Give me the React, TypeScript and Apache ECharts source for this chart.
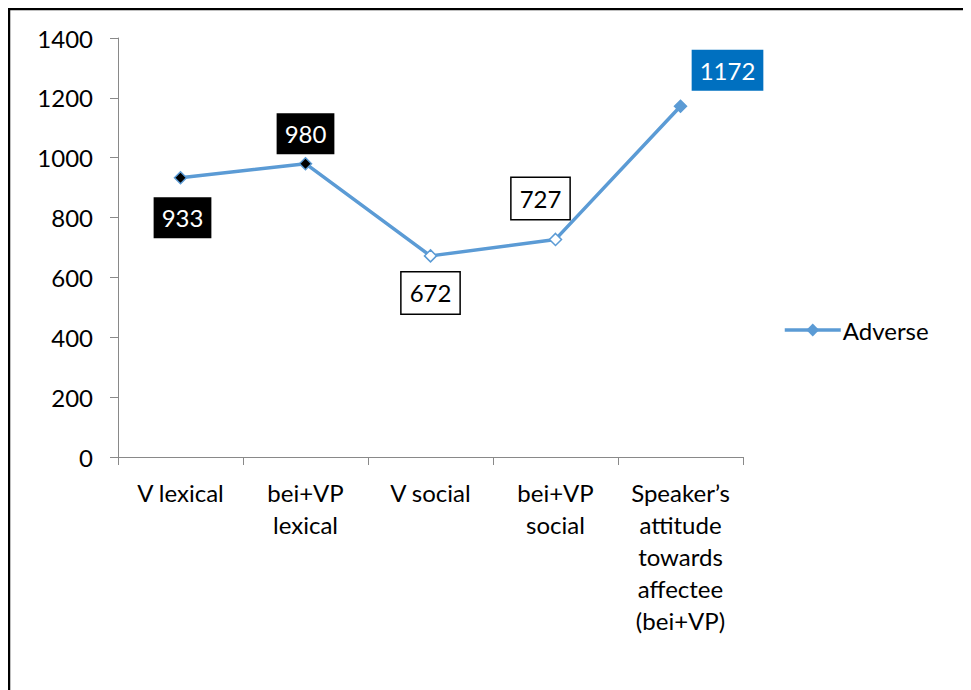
import React, { useEffect, useRef } from "react";
import * as echarts from "echarts";

// Category labels (multi-line where the text wraps)
const categories: string[] = [
  "V lexical",
  "bei+VP\nlexical",
  "V social",
  "bei+VP\nsocial",
  "Speaker\u2019s\nattitude\ntowards\naffectee\n(bei+VP)",
];

// Adverse counts per category
const adverseValues: number[] = [933, 980, 672, 727, 1172];

const seriesName = "Adverse";

const yTicks = { min: 0, max: 1400, interval: 200 };

const FONT = "Lato, 'Open Sans', sans-serif";
const FONT_SIZE = 24;
const LINE_BLUE = "#5B9BD5";
const AXIS_GRAY = "#898989";

// Per-point marker fill and label box styling
const pointLooks = [
  { fill: "#000000", boxBg: "#000000", boxBorder: "#000000", text: "#ffffff", offset: [2, 40] },
  { fill: "#000000", boxBg: "#000000", boxBorder: "#000000", text: "#ffffff", offset: [0, -30] },
  { fill: "#ffffff", boxBg: "#ffffff", boxBorder: "#000000", text: "#000000", offset: [0, 37] },
  { fill: "#ffffff", boxBg: "#ffffff", boxBorder: "#000000", text: "#000000", offset: [-15, -41] },
  { fill: LINE_BLUE, boxBg: "#0070C0", boxBorder: "#0070C0", text: "#ffffff", offset: [47, -36] },
];

export default function App() {
  const ref = useRef<HTMLDivElement>(null);

  useEffect(() => {
    if (!ref.current) return;
    const chart = echarts.init(ref.current, undefined, { renderer: "svg" });

    const data = adverseValues.map((v, i) => {
      const look = pointLooks[i];
      return {
        value: v,
        itemStyle: { color: look.fill, borderColor: LINE_BLUE, borderWidth: 1.5 },
        label: {
          show: true,
          position: "inside",
          offset: look.offset,
          formatter: "{c}",
          color: look.text,
          backgroundColor: look.boxBg,
          borderColor: look.boxBorder,
          borderWidth: look.boxBg === "#ffffff" ? 1.5 : 0,
          padding: [7, 8, 7, 8],
          fontFamily: FONT,
          fontSize: FONT_SIZE,
          lineHeight: 27,
        },
      };
    });

    chart.setOption({
      animation: false,
      backgroundColor: "#ffffff",
      textStyle: { fontFamily: FONT },
      graphic: [
        {
          type: "polyline",
          shape: { points: [[1, 700], [1, 1], [959.5, 1], [959.5, 700]] },
          style: { stroke: "#000000", lineWidth: 2.5, fill: "none" },
          silent: true,
        },
      ],
      grid: { left: 110, top: 30, width: 625, height: 419 },
      legend: {
        orient: "vertical",
        left: 770,
        top: 305,
        itemWidth: 56,
        itemHeight: 16,
        itemGap: 10,
        lineStyle: { width: 3.5, color: LINE_BLUE },
        itemStyle: { color: LINE_BLUE, borderColor: LINE_BLUE },
        textStyle: { fontFamily: FONT, fontSize: FONT_SIZE, color: "#000000", padding: [0, 0, 0, -3] },
        data: [seriesName],
      },
      xAxis: {
        type: "category",
        data: categories,
        boundaryGap: true,
        axisLine: { show: true, lineStyle: { color: AXIS_GRAY, width: 1 } },
        axisTick: { show: true, length: 8, alignWithLabel: false, lineStyle: { color: AXIS_GRAY } },
        axisLabel: {
          interval: 0,
          margin: 19,
          fontFamily: FONT,
          fontSize: FONT_SIZE,
          lineHeight: 32,
          color: "#000000",
        },
        splitLine: { show: false },
      },
      yAxis: {
        type: "value",
        min: yTicks.min,
        max: yTicks.max,
        interval: yTicks.interval,
        axisLine: { show: true, lineStyle: { color: AXIS_GRAY, width: 1 } },
        axisTick: { show: true, length: 8, lineStyle: { color: AXIS_GRAY } },
        axisLabel: {
          margin: 25,
          fontFamily: FONT,
          fontSize: FONT_SIZE,
          color: "#000000",
          formatter: (v: number) => String(v),
        },
        splitLine: { show: false },
      },
      series: [
        {
          name: seriesName,
          type: "line",
          data,
          symbol: "diamond",
          symbolSize: 12,
          showAllSymbol: true,
          lineStyle: { color: LINE_BLUE, width: 3.5 },
          itemStyle: { color: LINE_BLUE, borderColor: LINE_BLUE },
          emphasis: { disabled: true },
        },
      ],
    });

    return () => chart.dispose();
  }, []);

  return <div ref={ref} style={{ width: 963, height: 682 }} />;
}
